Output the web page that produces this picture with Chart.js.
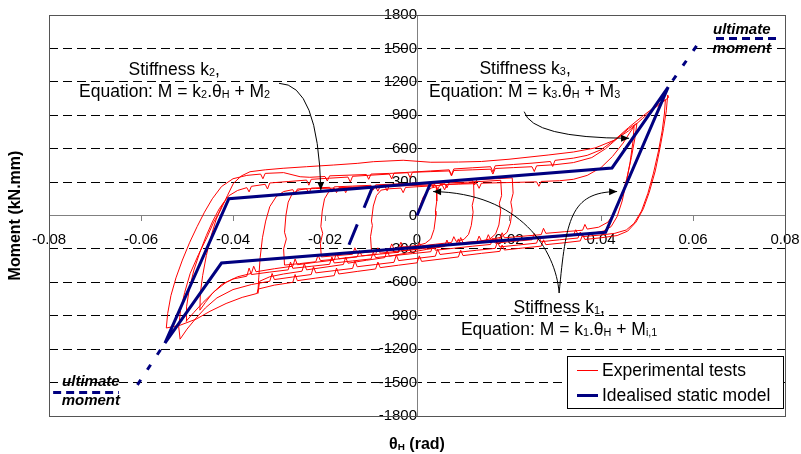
<!DOCTYPE html>
<html>
<head>
<meta charset="utf-8">
<script src="https://cdn.jsdelivr.net/npm/chart.js@4.4.1/dist/chart.umd.min.js"></script>
<style>
  html, body { margin: 0; padding: 0; background: #fff; }
  #wrap { width: 801px; height: 454px; position: relative; }
</style>
</head>
<body>
<div id="wrap"><canvas id="momentChart"></canvas></div>
<script>
// axis ticks
const thetaTicks = [-0.08, -0.06, -0.04, -0.02, 0, 0.02, 0.04, 0.06, 0.08];
const momentTicks = [-1800, -1500, -1200, -900, -600, -300, 0, 300, 600, 900, 1200, 1500, 1800];

// idealised static model [theta, moment]
const modelPath = [[-0.0548, -1145], [-0.0409, 151], [0.0424, 427], [0.0546, 1153], [0.0410, -151], [-0.0425, -427], [-0.0548, -1145]];
const modelStart = [[0, 0], [0.0030, 296]];
const modelUnload = [[-0.0097, 253], [-0.0155, -335]];
const ultimateTopDiag = [[0.0546, 1153], [0.0619, 1590]];
const ultimateTopFlat = [[0.0650, 1588], [0.0790, 1588]];
const ultimateBotDiag = [[-0.0548, -1145], [-0.0620, -1597]];
const ultimateBotFlat = [[-0.0791, -1590], [-0.0648, -1590]];

// experimental hysteresis
const cycle1 = [[0, 0], [0.0006, 80], [0.0013, 160], [0.0022, 222], [0.0032, 248], [0.0042, 258],
  [0.0043, 130], [0.0040, 40], [0.0041, 0], [0.0037, -125], [0.003, -210], [0.0018, -250], [0, -270], [-0.003, -282], [-0.0035, -240], [-0.004, -292], [-0.007, -305], [-0.0099, -318],
  [-0.0101, -190], [-0.0097, -90], [-0.0099, -50], [-0.0095, 85], [-0.0088, 180], [-0.0078, 228], [-0.006, 240], [-0.0035, 246], [-0.003, 205], [-0.0025, 252], [0, 258], [0.003, 265], [0.0055, 272]];
const cycle2 = [[0.0055, 272], [0.006, 230], [0.0065, 278], [0.0095, 286], [0.0123, 295],
  [0.0124, 160], [0.0120, 90], [0.0122, 30], [0.0118, -90], [0.0112, -170], [0.0102, -215], [0.0085, -232], [0.008, -190], [0.0075, -242], [0.004, -258], [0.001, -272], [-0.002, -288], [-0.005, -300], [-0.0055, -255], [-0.006, -310], [-0.0095, -325], [-0.013, -338], [-0.0135, -290], [-0.014, -348], [-0.0175, -360], [-0.0208, -372],
  [-0.021, -250], [-0.0205, -160], [-0.0209, -100], [-0.0206, 40], [-0.0201, 150], [-0.0192, 212], [-0.0178, 236], [-0.016, 246], [-0.0155, 205], [-0.015, 252], [-0.011, 258], [-0.007, 265], [-0.0065, 222], [-0.006, 270], [-0.002, 276], [0.002, 283], [0.006, 290], [0.0065, 248], [0.007, 294], [0.011, 300], [0.015, 308], [0.0182, 316]];
const cycle3 = [[0.0182, 316], [0.0184, 180], [0.0179, 110], [0.0182, 40], [0.0178, -85], [0.0171, -165], [0.0159, -210], [0.014, -228], [0.0135, -185], [0.013, -238], [0.0095, -252], [0.009, -210], [0.0085, -260], [0.005, -278], [0.001, -298], [-0.003, -318], [-0.0035, -272], [-0.004, -330], [-0.008, -346], [-0.012, -362], [-0.0125, -315], [-0.013, -372], [-0.017, -390], [-0.021, -405], [-0.0215, -355], [-0.022, -415], [-0.0255, -432], [-0.0288, -445],
  [-0.029, -300], [-0.0284, -210], [-0.0288, -150], [-0.0285, 0], [-0.028, 120], [-0.0271, 198], [-0.0256, 230], [-0.024, 240], [-0.0235, 198], [-0.023, 246], [-0.019, 253], [-0.0185, 210], [-0.018, 257], [-0.014, 264], [-0.010, 271], [-0.0095, 228], [-0.009, 275], [-0.005, 282], [-0.001, 290], [0.003, 298], [0.0035, 255], [0.004, 302], [0.008, 310], [0.012, 318], [0.0125, 275], [0.013, 322], [0.017, 330], [0.0207, 338]];
const cycle4 = [[0.0207, 338], [0.0209, 200], [0.0204, 120], [0.0207, 50], [0.0203, -70], [0.0196, -150], [0.0183, -195], [0.016, -215], [0.0155, -172], [0.015, -226], [0.011, -246], [0.007, -266], [0.0065, -220], [0.006, -278], [0.002, -305], [-0.002, -335], [-0.006, -365], [-0.0065, -312], [-0.007, -378], [-0.011, -402], [-0.015, -428], [-0.0155, -375], [-0.016, -440], [-0.020, -464], [-0.024, -488], [-0.0245, -432], [-0.025, -500], [-0.029, -525], [-0.032, -550], [-0.0342, -590], [-0.0346, -700],
  [-0.0344, -560], [-0.0341, -380], [-0.0336, -200], [-0.0329, -50], [-0.032, 80], [-0.0306, 170], [-0.029, 215], [-0.027, 232], [-0.0265, 190], [-0.026, 238], [-0.022, 242], [-0.018, 246], [-0.0175, 205], [-0.017, 250], [-0.013, 254], [-0.009, 258], [-0.0085, 218], [-0.008, 262], [-0.004, 266], [0, 270], [0.004, 274], [0.0045, 232], [0.005, 278], [0.009, 282], [0.013, 286], [0.0135, 244], [0.014, 290], [0.018, 294], [0.022, 298], [0.026, 302], [0.0265, 262], [0.027, 306], [0.031, 312], [0.034, 325], [0.037, 360], [0.040, 430], [0.0425, 530], [0.0448, 650], [0.0462, 740], [0.0472, 800]];
const cycle5 = [[0.0472, 800], [0.0469, 650], [0.0463, 470], [0.0455, 300], [0.0446, 130], [0.0435, -10], [0.0422, -100], [0.0405, -140], [0.038, -160], [0.035, -170], [0.0345, -128], [0.034, -180], [0.030, -192], [0.026, -206], [0.0255, -162], [0.025, -218], [0.021, -232], [0.017, -248], [0.0165, -205], [0.016, -260], [0.012, -276], [0.008, -294], [0.004, -312], [0.0035, -265], [0.003, -325], [-0.001, -342], [-0.005, -360], [-0.009, -378], [-0.0095, -328], [-0.010, -390], [-0.014, -408], [-0.018, -426], [-0.0185, -372], [-0.019, -438], [-0.023, -456], [-0.027, -474], [-0.0275, -418], [-0.028, -488], [-0.032, -508], [-0.036, -530], [-0.0365, -472], [-0.037, -545], [-0.040, -570], [-0.0425, -620], [-0.0445, -700], [-0.046, -780], [-0.0472, -850],
  [-0.0471, -700], [-0.0466, -540], [-0.0458, -360], [-0.0448, -190], [-0.0437, -40], [-0.0424, 90], [-0.041, 175], [-0.039, 225], [-0.037, 250], [-0.0365, 212], [-0.036, 262], [-0.033, 280], [-0.0325, 238], [-0.032, 292], [-0.028, 305], [-0.024, 318], [-0.0235, 272], [-0.023, 325], [-0.019, 335], [-0.015, 345], [-0.0145, 300], [-0.014, 352], [-0.010, 362], [-0.006, 372], [-0.0055, 328], [-0.005, 380], [-0.001, 390], [0.003, 400], [0.007, 410], [0.0075, 365], [0.008, 418], [0.012, 428], [0.016, 438], [0.0165, 392], [0.017, 446], [0.021, 458], [0.025, 470], [0.029, 485], [0.0295, 440], [0.030, 495], [0.034, 515], [0.037, 540], [0.040, 590], [0.043, 680], [0.046, 790], [0.049, 890], [0.0515, 970], [0.0535, 1030], [0.054, 1040]];
const cycle6 = [[0.054, 1040], [0.0538, 920], [0.0533, 760], [0.0525, 580], [0.0514, 380], [0.0502, 200], [0.0488, 40], [0.0472, -70], [0.0455, -130], [0.043, -160], [0.040, -175], [0.036, -190], [0.0355, -148], [0.035, -202], [0.031, -218], [0.027, -235], [0.0265, -190], [0.026, -248], [0.022, -265], [0.018, -282], [0.0175, -238], [0.017, -295], [0.013, -312], [0.009, -330], [0.005, -350], [0.0045, -302], [0.004, -365], [0, -385], [-0.004, -405], [-0.0045, -355], [-0.005, -420], [-0.009, -440], [-0.013, -460], [-0.0135, -408], [-0.014, -475], [-0.018, -495], [-0.022, -515], [-0.0225, -460], [-0.023, -530], [-0.027, -552], [-0.031, -575], [-0.0315, -520], [-0.032, -590], [-0.036, -620], [-0.040, -665], [-0.0435, -740], [-0.046, -830], [-0.048, -920], [-0.050, -1020], [-0.0515, -1110],
  [-0.0518, -1000], [-0.0514, -850], [-0.0505, -690], [-0.0493, -519], [-0.0475, -350], [-0.0457, -200], [-0.0442, -60], [-0.0428, 40], [-0.0412, 180], [-0.0399, 289], [-0.0382, 355], [-0.0363, 393], [-0.033, 410], [-0.0291, 424], [-0.024, 438], [-0.0182, 453], [-0.013, 468], [-0.0095, 483], [-0.003, 496], [0.003, 478], [0.009, 480], [0.014, 485], [0.020, 505], [0.0285, 543], [0.034, 570], [0.0387, 606], [0.043, 678], [0.046, 760], [0.049, 870], [0.0515, 960], [0.0535, 1020], [0.0547, 1060], [0.0545, 1082]];
const cycle7 = [[0.0545, 1082], [0.0542, 940], [0.0536, 780], [0.0528, 600], [0.0518, 400], [0.0505, 210], [0.0492, 60], [0.0476, -60], [0.0458, -140], [0.0435, -180], [0.040, -200], [0.0365, -215], [0.036, -172], [0.0355, -228], [0.032, -245], [0.028, -262], [0.0275, -218], [0.027, -275], [0.023, -292], [0.019, -310], [0.0185, -265], [0.018, -322], [0.014, -340], [0.010, -360], [0.0095, -312], [0.009, -372], [0.005, -392], [0.001, -412], [0.0005, -362], [0, -425], [-0.004, -446], [-0.008, -468], [-0.0085, -418], [-0.009, -480], [-0.013, -502], [-0.017, -525], [-0.0175, -472], [-0.018, -540], [-0.022, -562], [-0.026, -585], [-0.0265, -530], [-0.027, -600], [-0.031, -625], [-0.0345, -660], [-0.0348, -700], [-0.038, -735], [-0.0415, -790], [-0.045, -860], [-0.048, -930], [-0.0515, -985], [-0.0545, -1010],
  [-0.0542, -880], [-0.0535, -720], [-0.0524, -560], [-0.051, -400], [-0.0494, -240], [-0.0478, -100], [-0.0462, 30], [-0.0445, 150], [-0.0425, 260], [-0.040, 330], [-0.037, 360], [-0.034, 372], [-0.0335, 330], [-0.033, 378], [-0.029, 385], [-0.0254, 348], [-0.0233, 343]];
const cycle8 = [[-0.0233, 343], [-0.020, 350], [-0.0195, 310], [-0.019, 356], [-0.015, 362], [-0.011, 368], [-0.0105, 325], [-0.010, 372], [-0.006, 378], [-0.002, 384], [-0.0015, 340], [-0.001, 388], [0.003, 394], [0.007, 400], [0.0075, 355], [0.008, 404], [0.012, 410], [0.016, 416], [0.0165, 372], [0.017, 422], [0.021, 430], [0.025, 438], [0.0255, 395], [0.026, 446], [0.030, 456], [0.034, 475], [0.038, 520], [0.041, 600], [0.0435, 690], [0.046, 780], [0.0478, 828],
  [0.0474, 700], [0.0466, 520], [0.0456, 330], [0.0444, 160], [0.043, 30], [0.0415, -60], [0.0395, -105], [0.037, -122], [0.0365, -80], [0.036, -132], [0.032, -146], [0.028, -160], [0.0275, -115], [0.027, -172], [0.023, -186], [0.019, -200], [0.0185, -155], [0.018, -212], [0.014, -228], [0.010, -244], [0.0095, -198], [0.009, -256], [0.005, -272], [0.001, -290], [0.0005, -245], [0, -302], [-0.004, -320], [-0.008, -338], [-0.0085, -290], [-0.009, -350], [-0.013, -368], [-0.017, -388], [-0.0175, -338], [-0.018, -400], [-0.022, -420], [-0.026, -442], [-0.0265, -390], [-0.027, -455], [-0.031, -478], [-0.035, -505], [-0.0355, -455], [-0.036, -520], [-0.039, -550], [-0.0415, -600], [-0.044, -680], [-0.0465, -780], [-0.0485, -870], [-0.0502, -950],
  [-0.0501, -820], [-0.0495, -660], [-0.0485, -490], [-0.0472, -330], [-0.0458, -180], [-0.0444, -50], [-0.043, 60], [-0.0418, 130]];

const redCycles = [cycle1, cycle2, cycle3, cycle4, cycle5, cycle6, cycle7, cycle8];

const NAVY = '#000080';
const RED = '#ff0000';
const toXY = pts => pts.map(p => ({ x: p[0], y: p[1] }));

function line(data, color, width, dash, order) {
  return { data: toXY(data), borderColor: color, backgroundColor: color, borderWidth: width,
    borderDash: dash || [], showLine: true, pointRadius: 0, pointHoverRadius: 0, tension: 0, order: order };
}

const datasets = [
  line(modelPath, NAVY, 3, null, 0),
  line(modelStart, NAVY, 3, null, 0),
  line(modelUnload, NAVY, 3, [22, 18], 0),
  line(ultimateTopDiag, NAVY, 3, [0, 8, 6, 4], 0),
  line(ultimateTopFlat, NAVY, 3, [8, 5], 0),
  line(ultimateBotDiag, NAVY, 3, [0, 8, 6, 4], 0),
  line(ultimateBotFlat, NAVY, 3, [8, 5], 0)
];
redCycles.forEach(c => datasets.push(line(c, RED, 1, null, 1)));

// text with subscripts: parts = [[text, isSub], ...]
function richWidth(ctx, parts, size, weight) {
  let w = 0;
  parts.forEach(([t, sub]) => {
    ctx.font = (weight || '') + ' ' + (sub ? size * 0.62 : size) + 'px Arial, "Liberation Sans", sans-serif';
    w += ctx.measureText(t).width;
  });
  return w;
}
function richText(ctx, parts, cx, base, size, weight) {
  let x = cx - richWidth(ctx, parts, size, weight) / 2;
  ctx.textAlign = 'left';
  ctx.textBaseline = 'alphabetic';
  parts.forEach(([t, sub]) => {
    ctx.font = (weight || '') + ' ' + (sub ? size * 0.62 : size) + 'px Arial, "Liberation Sans", sans-serif';
    ctx.fillText(t, x, base + (sub ? 1 : 0));
    x += ctx.measureText(t).width;
  });
}
function arrow(ctx, pts) {
  ctx.beginPath();
  ctx.moveTo(pts[0][0], pts[0][1]);
  if (pts.length === 3) ctx.quadraticCurveTo(pts[1][0], pts[1][1], pts[2][0], pts[2][1]);
  else ctx.bezierCurveTo(pts[1][0], pts[1][1], pts[2][0], pts[2][1], pts[3][0], pts[3][1]);
  ctx.stroke();
  const e = pts[pts.length - 1], c = pts[pts.length - 2];
  const a = Math.atan2(e[1] - c[1], e[0] - c[0]);
  ctx.beginPath();
  ctx.moveTo(e[0], e[1]);
  ctx.lineTo(e[0] - 8 * Math.cos(a) + 3.5 * Math.sin(a), e[1] - 8 * Math.sin(a) - 3.5 * Math.cos(a));
  ctx.lineTo(e[0] - 8 * Math.cos(a) - 3.5 * Math.sin(a), e[1] - 8 * Math.sin(a) + 3.5 * Math.cos(a));
  ctx.closePath();
  ctx.fill();
}

const decor = {
  id: 'decor',
  beforeDatasetsDraw(chart) {
    const { ctx, chartArea: a } = chart;
    ctx.save();
    ctx.strokeStyle = '#555';
    ctx.lineWidth = 1;
    ctx.strokeRect(Math.round(a.left) + 0.5, Math.round(a.top) + 0.5, Math.round(a.right - a.left), Math.round(a.bottom - a.top));
    ctx.restore();
  },
  afterDraw(chart) {
    const { ctx, chartArea: a, scales } = chart;
    const X = v => scales.x.getPixelForValue(v);
    const Y = v => scales.y.getPixelForValue(v);
    ctx.save();
    ctx.fillStyle = '#000';
    ctx.strokeStyle = '#000';
    ctx.lineWidth = 1;

    // axis titles
    richText(ctx, [['θ', 0], ['H', 1], [' (rad)', 0]], (a.left + a.right) / 2, 449, 16, 'bold');
    ctx.save();
    ctx.translate(20, (a.top + a.bottom) / 2);
    ctx.rotate(-Math.PI / 2);
    richText(ctx, [['Moment (kN.mm)', 0]], 0, 0, 16, 'bold');
    ctx.restore();

    // stiffness annotations
    const fs = 17.5;
    richText(ctx, [['Stiffness k', 0], ['2', 1], [',', 0]], X(-0.0528), Y(1262), fs);
    richText(ctx, [['Equation: M = k', 0], ['2', 1], ['.θ', 0], ['H', 1], [' + M', 0], ['2', 1]], X(-0.0527), Y(1064), fs);
    richText(ctx, [['Stiffness k', 0], ['3', 1], [',', 0]], X(0.0235), Y(1270), fs);
    richText(ctx, [['Equation: M = k', 0], ['3', 1], ['.θ', 0], ['H', 1], [' + M', 0], ['3', 1]], X(0.0234), Y(1061), fs);
    richText(ctx, [['Stiffness k', 0], ['1', 1], [',', 0]], X(0.0309), Y(-873), fs);
    richText(ctx, [['Equation: M = k', 0], ['1', 1], ['.θ', 0], ['H', 1], [' + M', 0], ['i,1', 1]], X(0.0309), Y(-1073), fs);

    arrow(ctx, [[X(-0.0300), Y(1187)], [X(-0.0215), Y(1181)], [X(-0.0209), Y(229)]]);
    arrow(ctx, [[X(0.0233), Y(932)], [X(0.0250), Y(696)], [X(0.0461), Y(693)]]);
    arrow(ctx, [[X(0.0309), Y(-696)], [X(0.0302), Y(-310)], [X(0.0224), Y(202)], [X(0.0035), Y(215)]]);
    arrow(ctx, [[X(0.0309), Y(-696)], [X(0.0324), Y(-40)], [X(0.0333), Y(211)], [X(0.0435), Y(215)]]);

    // ultimate moment labels
    richText(ctx, [['ultimate', 0]], X(0.0706), Y(1631), 15, 'italic bold');
    richText(ctx, [['moment', 0]], X(0.0706), Y(1459), 15, 'italic bold');
    richText(ctx, [['ultimate', 0]], X(-0.0709), Y(-1531), 15, 'italic bold');
    richText(ctx, [['moment', 0]], X(-0.0709), Y(-1701), 15, 'italic bold');

    // legend
    const lx = a.right - 218, ly = a.bottom - 60;
    ctx.fillStyle = '#fff';
    ctx.fillRect(lx, ly, 216, 52);
    ctx.strokeStyle = '#000';
    ctx.strokeRect(lx + 0.5, ly + 0.5, 216, 52);
    ctx.strokeStyle = RED; ctx.lineWidth = 1;
    ctx.beginPath(); ctx.moveTo(lx + 10, ly + 14.5); ctx.lineTo(lx + 31, ly + 14.5); ctx.stroke();
    ctx.strokeStyle = NAVY; ctx.lineWidth = 3;
    ctx.beginPath(); ctx.moveTo(lx + 10, ly + 39.5); ctx.lineTo(lx + 31, ly + 39.5); ctx.stroke();
    ctx.fillStyle = '#000';
    ctx.font = '17.5px Arial, "Liberation Sans", sans-serif';
    ctx.textAlign = 'left';
    ctx.textBaseline = 'middle';
    ctx.fillText('Experimental tests', lx + 35, ly + 15);
    ctx.fillText('Idealised static model', lx + 35, ly + 40);
    ctx.restore();
  }
};

Chart.defaults.font.family = 'Arial, "Liberation Sans", sans-serif';
Chart.defaults.color = '#000';

new Chart(document.getElementById('momentChart'), {
  type: 'scatter',
  data: { datasets },
  options: {
    responsive: true,
    maintainAspectRatio: false,
    animation: false,
    events: [],
    layout: { padding: { left: 49, right: 16, top: 15, bottom: 38 } },
    plugins: { legend: { display: false }, tooltip: { enabled: false } },
    scales: {
      x: {
        type: 'linear', min: -0.08, max: 0.08, position: { y: 0 },
        afterBuildTicks: s => { s.ticks = thetaTicks.map(v => ({ value: v })); },
        afterFit: s => { s.height = 0; s.paddingLeft = 0; s.paddingRight = 0; },
        grid: { drawOnChartArea: false, drawTicks: true, tickLength: 5, tickColor: '#808080' },
        border: { display: true, color: '#808080', width: 1 },
        ticks: { font: { size: 15 }, padding: 10, maxRotation: 0, autoSkip: false,
          callback: v => (v === 0 ? '0' : Number(v).toFixed(2)) }
      },
      y: {
        type: 'linear', min: -1800, max: 1800, position: { x: 0 },
        afterBuildTicks: s => { s.ticks = momentTicks.map(v => ({ value: v })); },
        afterFit: s => { s.width = 0; s.paddingTop = 0; s.paddingBottom = 0; },
        grid: {
          color: c => (c.tick && (c.tick.value === 0 || Math.abs(c.tick.value) === 1800)) ? 'rgba(0,0,0,0)' : '#000',
          lineWidth: 1, drawTicks: true, tickLength: 5, tickColor: '#808080'
        },
        border: { display: true, color: '#808080', width: 1, dash: [9, 5] },
        ticks: { font: { size: 15 }, padding: 7, autoSkip: false, callback: v => String(v) }
      }
    }
  },
  plugins: [decor]
});
</script>
</body>
</html>
